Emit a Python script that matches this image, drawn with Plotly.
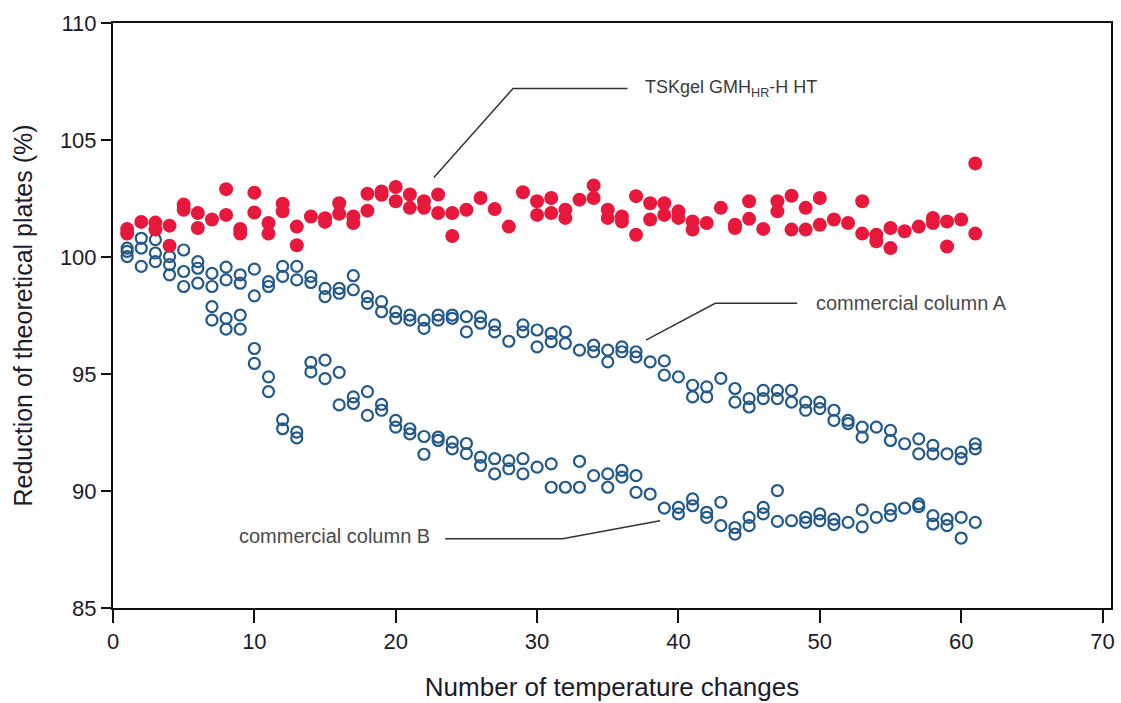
import plotly.graph_objects as go

# ---------------- data ----------------
cycles = list(range(1, 62))

tsk_hi = [101.2, 101.5, 101.47, 101.34, 102.24, 101.88, 101.6, 102.9, 101.2, 102.75,
          101.45, 102.28, 101.3, 101.73, 101.66, 102.3, 101.73, 102.7, 102.8, 102.99,
          102.67, 102.38, 102.67, 101.88, 102.02, 102.52, 102.05, 101.3, 102.77, 102.38,
          102.52, 102.02, 102.45, 103.06, 102.02, 101.73, 102.6, 102.3, 102.3, 101.95,
          101.52, 101.45, 102.1, 101.38, 102.38, 101.2, 102.38, 102.62, 102.1, 102.52,
          101.6, 101.45, 102.38, 100.95, 101.24, 101.1, 101.3, 101.67, 101.52, 101.6,
          104.0]
tsk_lo = [101.0, None, 101.17, 100.48, 102.02, 101.24, None, 101.8, 101.0, 101.9,
          101.0, 101.95, 100.5, None, 101.5, 101.85, 101.45, 101.98, 102.66, 102.38,
          102.1, 102.1, 101.88, 100.9, None, None, None, None, None, 101.8,
          101.88, 101.67, None, 102.52, 101.67, 101.52, 100.95, 101.6, 101.8, 101.67,
          101.17, None, None, 101.24, 101.63, None, 101.95, 101.17, 101.17, 101.38,
          None, None, 101.0, 100.67, 100.38, None, None, 101.45, 100.45, None,
          101.0]

colA_hi = [100.38, 100.8, 100.74, 100.02, 100.3, 99.8, 99.3, 99.57, 99.24, 99.48,
           98.95, 99.6, 99.6, 99.17, 98.66, 98.66, 99.2, 98.31, 98.09, 97.66,
           97.52, 97.3, 97.52, 97.52, 97.45, 97.45, 97.1, 96.4, 97.1, 96.88,
           96.74, 96.8, 96.02, 96.23, 96.02, 96.16, 95.95, 95.52, 95.56, 94.88,
           94.52, 94.45, 94.81, 94.38, 93.95, 94.3, 94.3, 94.3, 93.8, 93.8,
           93.45, 93.02, 92.73, 92.73, 92.59, 92.02, 92.23, 91.95, 91.59, 91.66,
           92.02]
colA_lo = [100.24, 100.38, 100.17, 99.67, 99.38, 99.52, 98.74, 99.02, 98.88, 98.34,
           98.74, 99.17, 99.02, 98.91, 98.31, 98.45, 98.6, 98.02, 97.66, 97.38,
           97.3, 96.95, 97.3, 97.38, 96.8, 97.17, 96.8, None, 96.8, 96.16,
           96.38, 96.31, None, 95.95, 95.52, 95.95, 95.73, None, 94.95, None,
           94.02, 94.02, None, 93.8, 93.59, 93.95, 93.95, 93.8, 93.45, 93.52,
           93.02, 92.88, 92.3, None, 92.16, None, 91.59, 91.59, None, 91.38,
           91.8]

colB_hi = [100.02, 99.6, 99.8, 99.24, 98.74, 98.88, 97.88, 97.38, 97.52, 96.09,
           94.88, 93.05, 92.52, 95.5, 95.59, 95.07, 94.02, 94.25, 93.7, 93.02,
           92.66, 92.33, 92.3, 92.09, 92.03, 91.45, 91.38, 91.3, 91.38, 91.02,
           91.16, 90.16, 91.27, 90.66, 90.73, 90.88, 90.66, 89.87, 89.27, 89.3,
           89.66, 89.09, 89.52, 88.44, 88.87, 89.3, 90.02, 88.73, 88.87, 89.02,
           88.8, 88.66, 89.19, 88.87, 89.23, 89.27, 89.45, 88.95, 88.8, 88.87,
           88.66]
colB_lo = [None, None, None, None, None, None, 97.3, 96.92, 96.92, 95.45,
           94.25, 92.66, 92.27, 95.09, 94.8, 93.68, 93.74, 93.23, 93.45, 92.73,
           92.44, 91.57, 92.16, 91.8, 91.6, 91.09, 90.73, 90.95, 90.73, None,
           90.16, None, 90.16, None, 90.16, 90.59, 89.94, None, None, 89.02,
           89.37, 88.87, 88.52, 88.16, 88.52, 89.02, 88.7, None, 88.66, 88.73,
           88.56, None, 88.47, None, 88.95, None, 89.33, 88.59, 88.52, 87.99,
           None]

x_ticks = [0, 10, 20, 30, 40, 50, 60, 70]
y_ticks = [85, 90, 95, 100, 105, 110]

label_tsk = "TSKgel GMH<sub>HR</sub>-H HT"
label_a = "commercial column A"
label_b = "commercial column B"
x_title = "Number of temperature changes"
y_title = "Reduction of theoretical plates (%)"

# leader lines (data coordinates)
lead_tsk_x = [22.7, 28.3, 36.4]
lead_tsk_y = [103.4, 107.2, 107.2]
lead_a_x = [37.7, 42.6, 48.4]
lead_a_y = [96.45, 98.02, 98.02]
lead_b_x = [23.5, 31.8, 38.7]
lead_b_y = [87.96, 87.96, 88.73]

# ---------------- figure ----------------
RED = "#e8173c"
BLUE = "#22598a"
FONT = "Liberation Sans, Arial, sans-serif"


def both(hi, lo):
    xs, ys = [], []
    for c, h, l in zip(cycles, hi, lo):
        if h is not None:
            xs.append(c); ys.append(h)
        if l is not None:
            xs.append(c); ys.append(l)
    return xs, ys


fig = go.Figure()

for lx, ly in [(lead_tsk_x, lead_tsk_y), (lead_a_x, lead_a_y), (lead_b_x, lead_b_y)]:
    fig.add_trace(go.Scatter(x=lx, y=ly, mode="lines", line=dict(color="#333333", width=1.5),
                             hoverinfo="skip", showlegend=False))

xa, ya = both(colA_hi, colA_lo)
fig.add_trace(go.Scatter(x=xa, y=ya, mode="markers", name=label_a, showlegend=False,
                         marker=dict(symbol="circle-open", size=11, color=BLUE,
                                     line=dict(width=2.2, color=BLUE))))
xb, yb = both(colB_hi, colB_lo)
fig.add_trace(go.Scatter(x=xb, y=yb, mode="markers", name=label_b, showlegend=False,
                         marker=dict(symbol="circle-open", size=11, color=BLUE,
                                     line=dict(width=2.2, color=BLUE))))
xt, yt = both(tsk_hi, tsk_lo)
fig.add_trace(go.Scatter(x=xt, y=yt, mode="markers", name="TSKgel GMHHR-H HT", showlegend=False,
                         marker=dict(symbol="circle", size=14, color=RED, line=dict(width=0))))

fig.add_annotation(x=lead_tsk_x[-1] + 1.1, y=lead_tsk_y[-1], text=label_tsk, showarrow=False,
                   xanchor="left", yanchor="middle", font=dict(family=FONT, size=18, color="#3a3a3a"))
fig.add_annotation(x=lead_a_x[-1] + 1.2, y=lead_a_y[-1], text=label_a, showarrow=False,
                   xanchor="left", yanchor="middle", font=dict(family=FONT, size=20, color="#4a4a4a"))
fig.add_annotation(x=lead_b_x[0] - 0.9, y=lead_b_y[0] + 0.12, text=label_b, showarrow=False,
                   xanchor="right", yanchor="middle", font=dict(family=FONT, size=20, color="#4a4a4a"))

fig.update_layout(
    width=1121, height=703,
    margin=dict(l=113, r=6, t=23, b=95),
    paper_bgcolor="white", plot_bgcolor="white",
    font=dict(family=FONT, color="#1b1b2b"),
    showlegend=False,
)
fig.update_xaxes(range=[0, 70.6], tickvals=x_ticks, ticks="outside", ticklen=13, tickwidth=2,
                 tickcolor="#111111", showline=True, linecolor="#111111", linewidth=2, mirror=True,
                 showgrid=False, zeroline=False, tickfont=dict(size=22),
                 title=dict(text=x_title, font=dict(size=26), standoff=24))
fig.update_yaxes(range=[85, 110], tickvals=y_ticks, ticks="outside", ticklen=10, tickwidth=2,
                 tickcolor="#111111", showline=True, linecolor="#111111", linewidth=2, mirror=True,
                 showgrid=False, zeroline=False, tickfont=dict(size=22),
                 title=dict(text=y_title, font=dict(size=25), standoff=20))

fig.write_html("out.html", config={"displayModeBar": False},
               post_script="document.body.style.margin='0';")
